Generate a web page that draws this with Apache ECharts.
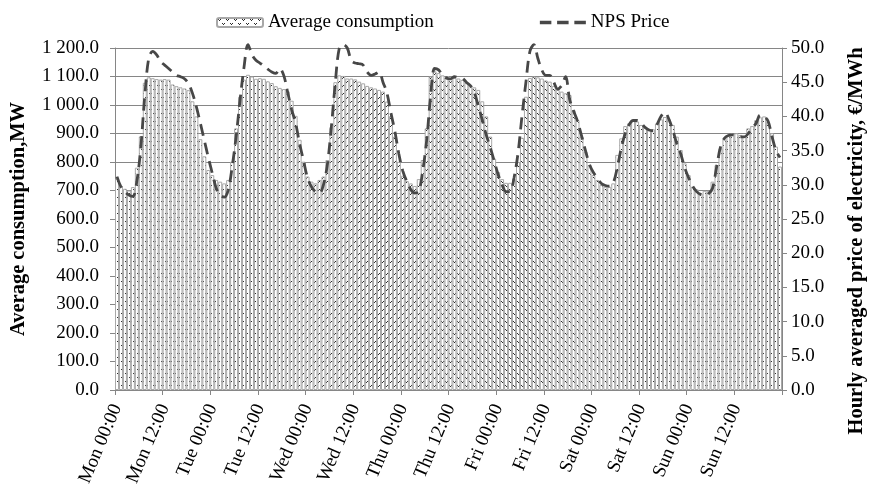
<!DOCTYPE html>
<html>
<head>
<meta charset="utf-8">
<script src="https://cdn.jsdelivr.net/npm/echarts@6/dist/echarts.min.js"></script>
<style>
html,body{margin:0;padding:0;background:#fff;}
#chart{width:875px;height:490px;}
</style>
</head>
<body>
<div id="chart"></div>
<script>
// ---- data (hourly, one week) ----
const days = ['Mon','Tue','Wed','Thu','Fri','Sat','Sun'];
const hours = ['00','01','02','03','04','05','06','07','08','09','10','11','12','13','14','15','16','17','18','19','20','21','22','23'];

const consMon = [740,716,706,700,712,780,890,1078,1097,1094,1091,1089,1091,1089,1072,1066,1062,1058,1052,1013,960,880,820,772];
const consTue = [754,737,731,725,737,801,918,1029,1089,1106,1100,1092,1094,1092,1083,1077,1066,1060,1056,1048,1015,962,878,801];
const consWed = [749,731,725,737,749,807,922,1080,1104,1102,1093,1093,1090,1082,1076,1067,1062,1058,1053,1047,1012,961,889,801];
const consThu = [752,733,725,716,740,807,918,1100,1118,1112,1104,1097,1093,1095,1093,1088,1078,1070,1062,1053,1013,960,889,812];
const consFri = [765,740,727,727,740,800,885,1029,1095,1100,1097,1093,1086,1082,1067,1053,1047,1041,1035,982,947,889,836,789];
const consSat = [754,737,719,713,713,725,825,883,926,936,947,942,930,922,912,915,935,950,958,950,930,889,842,795];
const consSun = [754,713,704,690,699,699,731,789,848,879,895,901,901,895,889,918,926,947,957,960,942,901,854,784];

const priceMon = [31.2,29.7,29.0,28.5,28.3,30.5,35.5,43.0,48.5,49.5,49.0,48.0,47.5,47.0,46.5,46.0,45.8,45.5,44.8,43.4,41.4,39.0,36.5,34.0];
const priceTue = [31.7,29.5,28.5,28.2,29.2,32.6,37.0,42.4,47.2,50.5,49.0,48.2,47.8,47.4,46.9,46.5,46.3,47.0,46.0,43.5,41.0,39.0,36.0,33.5];
const priceWed = [31.0,29.7,29.0,28.8,30.0,33.0,38.5,45.0,50.0,50.5,50.0,48.2,47.8,47.7,47.5,46.5,46.0,46.2,46.5,45.0,43.4,40.5,37.8,34.5];
const priceThu = [32.0,30.5,29.3,28.8,29.0,32.0,36.5,43.0,47.0,46.8,46.0,45.6,45.5,45.8,45.7,45.6,45.0,44.5,43.5,41.5,39.5,37.3,35.5,33.5];
const priceFri = [31.5,30.0,29.0,29.0,31.0,34.6,40.0,45.0,49.5,50.5,48.5,46.8,46.0,46.0,45.0,44.0,44.5,45.8,42.5,40.8,39.3,37.2,35.0,33.0];
const priceSat = [31.8,31.0,30.2,29.9,29.8,30.3,32.5,35.3,37.5,38.8,39.4,39.4,39.0,38.4,38.0,37.9,38.8,40.0,40.6,39.6,38.0,36.0,34.5,32.5];
const priceSun = [31.0,29.8,29.0,28.6,28.5,28.7,29.5,32.5,35.5,36.8,37.2,37.3,37.2,37.0,37.0,37.5,38.3,39.0,40.2,40.0,39.3,37.0,35.0,34.0];

const seriesNames = ['Average consumption','NPS Price'];
const leftAxisName = 'Average consumption,MW';
const rightAxisName = 'Hourly averaged price of electricity, \u20ac/MWh';

// ---- build ----
const categories = [];
days.forEach(d => hours.forEach(h => categories.push(d + ' ' + h + ':00')));
const consumption = [].concat(consMon, consTue, consWed, consThu, consFri, consSat, consSun);
const price = [].concat(priceMon, priceTue, priceWed, priceThu, priceFri, priceSat, priceSun);

// hatch pattern (white with small dark crosses)
const pc = document.createElement('canvas');
pc.width = 8; pc.height = 8;
const pctx = pc.getContext('2d');
pctx.fillStyle = '#ffffff';
pctx.fillRect(0, 0, 8, 8);
pctx.fillStyle = '#2a2a2a';
[[1,1],[3,1],[2,2],[5,5],[7,5],[6,6]].forEach(p => pctx.fillRect(p[0], p[1], 1, 1));
const hatch = { image: pc, repeat: 'repeat' };

const FONT = 'Liberation Serif';
function fmtLeft(v) {
  const s = v.toFixed(1);
  const parts = s.split('.');
  const intp = parts[0].replace(/\B(?=(\d{3})+(?!\d))/g, ' ');
  return intp + '.' + parts[1];
}

const chart = echarts.init(document.getElementById('chart'), null, { renderer: 'canvas' });
chart.setOption({
  animation: false,
  backgroundColor: '#ffffff',
  textStyle: { fontFamily: FONT, color: '#000' },
  legend: {
    data: [
      { name: seriesNames[0] },
      { name: seriesNames[1], icon: 'path://M0,0H10V3H0Z M15,0H25V3H15Z M30,0H40V3H30Z', itemStyle: { color: '#474747' } }
    ],
    left: 211,
    top: 8,
    itemGap: 106,
    itemWidth: 46,
    itemHeight: 9,
    textStyle: { fontFamily: FONT, fontSize: 19, color: '#000' }
  },
  grid: { left: 114, right: 89, top: 48, bottom: 100, containLabel: false },
  xAxis: {
    type: 'category',
    data: categories,
    boundaryGap: true,
    axisLine: { lineStyle: { color: '#868686', width: 1 } },
    axisTick: { show: true, interval: 11, length: 5, lineStyle: { color: '#868686' } },
    axisLabel: {
      interval: 11,
      rotate: 67,
      margin: 15,
      fontFamily: FONT,
      fontSize: 19,
      color: '#000'
    },
    splitLine: { show: false }
  },
  yAxis: [
    {
      type: 'value',
      min: 0, max: 1200, interval: 100,
      name: leftAxisName,
      nameLocation: 'middle',
      nameGap: 86,
      nameTextStyle: { fontFamily: FONT, fontSize: 20.5, fontWeight: 'bold', color: '#000' },
      axisLine: { show: true, lineStyle: { color: '#868686' } },
      axisTick: { show: true, length: 5, lineStyle: { color: '#868686' } },
      axisLabel: { formatter: fmtLeft, margin: 16, fontFamily: FONT, fontSize: 19, color: '#000' },
      splitLine: { show: true, lineStyle: { color: '#868686', width: 1 } }
    },
    {
      type: 'value',
      min: 0, max: 50, interval: 5,
      name: rightAxisName,
      nameLocation: 'middle',
      nameGap: 64,
      nameTextStyle: { fontFamily: FONT, fontSize: 20.5, fontWeight: 'bold', color: '#000', padding: [0, 44, 0, 0] },
      axisLine: { show: true, lineStyle: { color: '#868686' } },
      axisTick: { show: true, length: 5, lineStyle: { color: '#868686' } },
      axisLabel: { formatter: v => v.toFixed(1), margin: 9, fontFamily: FONT, fontSize: 19, color: '#000' },
      splitLine: { show: false }
    }
  ],
  series: [
    {
      name: seriesNames[0],
      type: 'bar',
      yAxisIndex: 0,
      data: consumption,
      barCategoryGap: '0%',
      itemStyle: { color: hatch, borderColor: '#a8a8a8', borderWidth: 1 },
      z: 2
    },
    {
      name: seriesNames[1],
      type: 'line',
      yAxisIndex: 1,
      data: price,
      smooth: 0.35,
      symbol: 'none',
      clip: false,
      lineStyle: { color: '#474747', width: 2.8, type: [12, 7], cap: 'butt' },
      itemStyle: { color: '#474747' },
      z: 3
    }
  ]
});
</script>
</body>
</html>
